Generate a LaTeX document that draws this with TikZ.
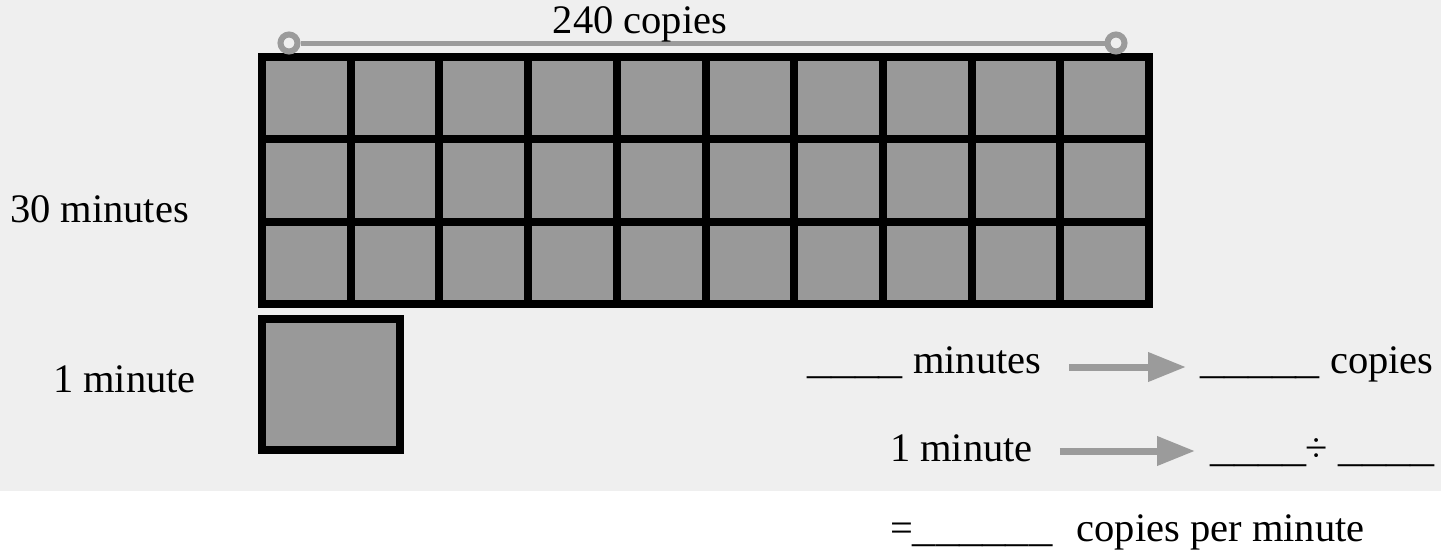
\documentclass[tikz,border=0pt]{standalone}
\usepackage{fontspec}
\setmainfont{Liberation Serif}
\usepackage{graphicx}
\usetikzlibrary{arrows.meta}
\definecolor{bggray}{HTML}{EFEFEF}
\definecolor{cellgray}{HTML}{999999}
\definecolor{linkgray}{HTML}{9B9B9B}
\newcommand{\blankrun}[2][1.185]{\scalebox{#1}[1]{#2}}
\begin{document}
\begin{tikzpicture}[x=1pt,y=-1pt,
  lbl/.style={inner sep=0pt, outer sep=0pt, font=\fontsize{40.5}{48}\selectfont, anchor=base west},
  gridline/.style={line width=8pt, draw=black},
  conn/.style={draw=linkgray, line width=7pt, -{Triangle[length=38pt 0 0, width=28pt 0 0]}},
  scalebar/.style={draw=linkgray, line width=5pt},
  endcirc/.style={circle, draw=linkgray, line width=6pt, fill=bggray, minimum size=17pt, inner sep=0pt}
]
\useasboundingbox (0,0) rectangle (1441,557);
\fill[bggray] (0,0) rectangle (1441,491);
% grid of 30 cells
\fill[cellgray] (262,57) rectangle (1149,304);
\foreach \i in {1,...,9} \draw[gridline] ({262+\i*88.7},57) -- ({262+\i*88.7},304);
\foreach \j in {1,2} \draw[gridline] (262,{57+\j*82.33}) -- (1149,{57+\j*82.33});
\draw[gridline] (262,57) rectangle (1149,304);
% one-minute square
\draw[gridline, fill=cellgray] (262,319) rectangle (400,450);
% scale bar
\node[endcirc] (sL) at (289,43) {};
\node[endcirc] (sR) at (1116,43) {};
\draw[scalebar] (sL) -- (sR);
% labels
\node[lbl, anchor=base] (top) at (640,33) {240 copies};
\node[lbl] (t30) at (10,222) {30 minutes};
\node[lbl] (t1) at (53,392) {1 minute};
\node[lbl] (rowAm) at (807,373) {\blankrun{\_\_\_\_} minutes};
\node[lbl] (rowAc) at (1200,373) {\blankrun{\_\_\_\_\_} copies};
\node[lbl] (rowBm) at (890,461) {1 minute};
\node[lbl] (rowBd) at (1210,461) {\blankrun{\_\_\_\_}÷ \blankrun{\_\_\_\_}};
\node[lbl] (res) at (890,541) {=\blankrun[1.15]{\_\_\_\_\_\_}\hspace{14pt} copies per minute};
% arrows
\draw[conn] ([xshift=28pt,yshift=6pt]rowAm.base east) -- ([xshift=-14pt,yshift=6pt]rowAc.base west);
\draw[conn] ([xshift=27pt,yshift=10pt]rowBm.base east) -- ([xshift=-15pt,yshift=10pt]rowBd.base west);
\end{tikzpicture}
\end{document}
